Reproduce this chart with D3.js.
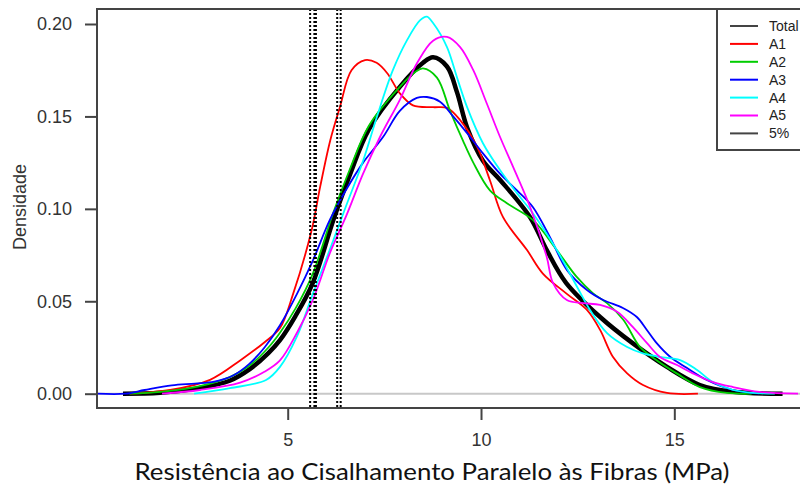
<!DOCTYPE html>
<html>
<head>
<meta charset="utf-8">
<script src="https://cdn.jsdelivr.net/npm/d3@7.9.0/dist/d3.min.js"></script>
<style>
  body { margin: 0; background: #fff; }
  svg { display: block; font-family: "Liberation Sans", Arial, sans-serif; }
</style>
</head>
<body>
<svg id="chart" width="800" height="489"></svg>
<script>
// density curves, [x, density]
const total = [[0.74,0],[1.7,0.0005],[2.7,0.003],[3.5,0.007],[4.0,0.013],[4.5,0.022],[4.8,0.029],[5.2,0.042],[5.65,0.06],[6.18,0.094],[6.6,0.118],[7.1,0.143],[7.9,0.166],[8.5,0.179],[8.76,0.182],[9.12,0.177],[9.38,0.163],[9.64,0.144],[10.05,0.126],[10.5,0.1155],[11.27,0.0955],[11.7,0.0777],[12.2,0.06],[13.08,0.0415],[13.93,0.0272],[14.81,0.0145],[15.66,0.0047],[16.52,0.001],[17.8,0]];
const a1 = [[0.92,0],[1.96,0.002],[2.99,0.0075],[3.77,0.018],[4.41,0.028],[4.8,0.0355],[5.14,0.054],[5.62,0.0886],[5.84,0.112],[6.1,0.137],[6.35,0.155],[6.65,0.175],[7.0,0.1805],[7.3,0.179],[7.57,0.1735],[7.9,0.1625],[8.24,0.156],[8.76,0.155],[9.12,0.1546],[9.46,0.148],[9.9,0.1335],[10.23,0.1155],[10.57,0.0955],[11.19,0.0777],[11.6,0.065],[12.22,0.054],[12.74,0.0453],[13.08,0.0345],[13.41,0.02],[13.78,0.011],[14.19,0.0047],[14.81,0.0004],[15.61,0]];
const a2 = [[0.9,0],[1.7,0.001],[2.7,0.004],[3.5,0.009],[4.0,0.015],[4.5,0.025],[4.8,0.033],[5.2,0.046],[5.65,0.065],[6.18,0.098],[6.6,0.121],[7.1,0.145],[7.9,0.166],[8.3,0.174],[8.5,0.176],[8.86,0.171],[9.2,0.153],[9.53,0.137],[9.8,0.125],[10.23,0.11],[10.67,0.103],[11.34,0.094],[11.96,0.0777],[12.47,0.0633],[12.9,0.0543],[13.26,0.049],[13.68,0.04],[14.11,0.0253],[14.55,0.018],[15.06,0.011],[15.66,0.0036],[16.36,0.0004],[17.0,0]];
const a3 = [[0.075,0],[0.8,0],[1.3,0.002],[2.0,0.0045],[2.6,0.0055],[3.1,0.0065],[3.6,0.01],[4.0,0.016],[4.4,0.025],[4.8,0.037],[5.24,0.054],[5.65,0.072],[6.09,0.094],[6.53,0.111],[6.95,0.125],[7.47,0.139],[7.9,0.153],[8.34,0.16],[8.6,0.1605],[8.94,0.158],[9.28,0.15],[9.64,0.141],[10.05,0.13],[10.49,0.119],[10.93,0.11],[11.34,0.101],[11.8,0.084],[12.22,0.067],[12.74,0.0561],[13.16,0.0507],[13.67,0.0464],[14.03,0.0415],[14.29,0.0345],[14.55,0.0272],[14.89,0.02],[15.32,0.014],[15.84,0.0074],[16.52,0.002],[17.2,0]];
const a4 = [[2.58,0],[3.51,0.003],[4.44,0.0074],[4.8,0.0145],[5.24,0.031],[5.65,0.054],[6.09,0.078],[6.5,0.101],[6.95,0.126],[7.31,0.15],[7.72,0.175],[8.08,0.191],[8.42,0.202],[8.6,0.204],[8.76,0.2005],[9.12,0.1875],[9.38,0.171],[9.64,0.155],[10.05,0.1355],[10.49,0.121],[10.93,0.1085],[11.34,0.0976],[11.96,0.0777],[12.48,0.058],[12.82,0.0453],[13.26,0.0328],[13.78,0.0253],[14.19,0.0218],[14.63,0.0199],[15.15,0.0182],[15.59,0.0128],[16.0,0.0063],[16.52,0.002],[17.04,0.0004],[17.6,0]];
const a5 = [[1.75,0],[2.73,0.002],[3.77,0.006],[4.41,0.012],[4.8,0.018],[5.24,0.033],[5.65,0.0507],[6.09,0.076],[6.53,0.097],[6.95,0.119],[7.39,0.139],[7.9,0.159],[8.35,0.179],[8.76,0.191],[9.12,0.193],[9.46,0.1875],[9.8,0.175],[10.15,0.157],[10.49,0.139],[10.83,0.1227],[11.27,0.101],[11.7,0.074],[11.86,0.06],[12.22,0.0507],[12.64,0.049],[13.08,0.048],[13.52,0.0443],[13.93,0.036],[14.3,0.0272],[14.63,0.0199],[15.07,0.0155],[15.48,0.011],[16.0,0.0063],[16.52,0.0036],[17.2,0.001],[18.2,0]];

// 5% quantile lines
const cuts = [5.58, 5.69, 5.73, 6.28, 6.37];

const xTicks = [5, 10, 15];
const yTicks = [0, 0.05, 0.10, 0.15, 0.20];
const legendNames = ['Total', 'A1', 'A2', 'A3', 'A4', 'A5', '5%'];
const legendColors = ['#444', '#ff0000', '#00cd00', '#0000ff', '#00ffff', '#ff00ff', '#444'];

const svg = d3.select('#chart');
const box = { left: 97, top: 9, right: 802, bottom: 408 };

let x = d3.scaleLinear().domain([0, 18]).range([94.4, 790.3]);
let y = d3.scaleLinear().domain([0, 0.2]).range([393.7, 24]);

// zero line
svg.append('line')
  .attr('x1', box.left).attr('x2', 800)
  .attr('y1', y(0)).attr('y2', y(0))
  .attr('stroke', '#c8c8c8').attr('stroke-width', 2);

// keep smoothed tails from dipping under the zero line
svg.append('clipPath').attr('id', 'clip')
  .append('rect').attr('x', box.left).attr('y', box.top)
  .attr('width', box.right - box.left).attr('height', y(0) + 2.5 - box.top);

let line = d3.line()
  .x(d => x(d[0]))
  .y(d => y(d[1]))
  .curve(d3.curveCatmullRom.alpha(0.5));

let curves = svg.append('g').attr('clip-path', 'url(#clip)');

curves.append('path').attr('d', line(total))
  .attr('fill', 'none').attr('stroke', '#000').attr('stroke-width', 4.5);

[a1, a2, a3, a4, a5].forEach((s, i) => {
  curves.append('path').attr('d', line(s))
    .attr('fill', 'none')
    .attr('stroke', legendColors[i + 1])
    .attr('stroke-width', 1.8);
});

cuts.forEach(c => {
  svg.append('line')
    .attr('x1', x(c)).attr('x2', x(c))
    .attr('y1', box.top).attr('y2', box.bottom)
    .attr('stroke', '#000').attr('stroke-width', 2)
    .attr('stroke-dasharray', '2,2');
});

// frame
svg.append('rect')
  .attr('x', box.left).attr('y', box.top)
  .attr('width', box.right - box.left).attr('height', box.bottom - box.top)
  .attr('fill', 'none').attr('stroke', '#444').attr('stroke-width', 2);

let yAxis = svg.append('g')
  .attr('transform', `translate(${box.left},0)`)
  .call(d3.axisLeft(y).tickValues(yTicks).tickFormat(d3.format('.2f')).tickSize(12).tickPadding(13));
let xAxis = svg.append('g')
  .attr('transform', `translate(0,${box.bottom})`)
  .call(d3.axisBottom(x).tickValues(xTicks).tickSize(12).tickPadding(13));

[xAxis, yAxis].forEach(g => {
  g.select('.domain').remove();
  g.selectAll('line').attr('stroke', '#444').attr('stroke-width', 2);
  g.selectAll('text').attr('font-size', 18).attr('fill', '#333')
    .attr('font-family', '"Liberation Sans", Arial, sans-serif');
});

svg.append('text')
  .attr('transform', 'translate(26,207) rotate(-90)')
  .attr('text-anchor', 'middle')
  .attr('font-size', 18).attr('fill', '#333')
  .text('Densidade');

svg.append('text')
  .attr('x', 432).attr('y', 480)
  .attr('text-anchor', 'middle')
  .attr('font-family', 'Lato, "Open Sans", sans-serif')
  .attr('font-size', 23).attr('fill', '#111')
  .attr('textLength', 595).attr('lengthAdjust', 'spacingAndGlyphs')
  .text('Resistência ao Cisalhamento Paralelo às Fibras (MPa)');

// legend
let legend = svg.append('g');
legend.append('rect')
  .attr('x', 717).attr('y', box.top).attr('width', 100).attr('height', 141)
  .attr('fill', '#fff').attr('stroke', '#444').attr('stroke-width', 2);
legendNames.forEach((name, i) => {
  let ly = 26 + i * 17.9;
  legend.append('line')
    .attr('x1', 730).attr('x2', 758).attr('y1', ly).attr('y2', ly)
    .attr('stroke', legendColors[i]).attr('stroke-width', 2);
  legend.append('text')
    .attr('x', 769).attr('y', ly).attr('dy', '0.35em')
    .attr('font-size', 14).attr('fill', '#222')
    .text(name);
});
</script>
</body>
</html>
